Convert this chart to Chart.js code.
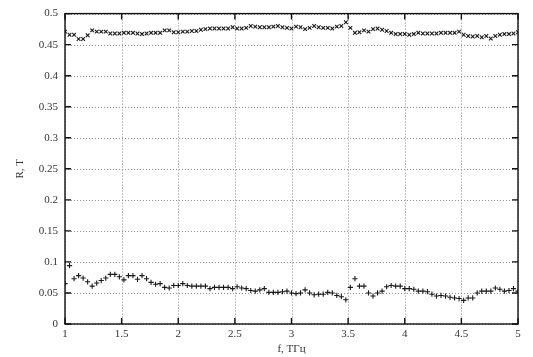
<!DOCTYPE html>
<html>
<head>
<meta charset="utf-8">
<script src="https://cdn.jsdelivr.net/npm/chart.js@4"></script>
<style>
  body { margin: 0; background: #fff; }
  canvas { display: block; }
</style>
</head>
<body>
<canvas id="rtChart" width="533" height="357"></canvas>
<script>
// frequency points, THz
const freq = [
    1.00, 1.04, 1.08, 1.12, 1.16, 1.20, 1.24, 1.28, 1.32, 1.36,
    1.40, 1.44, 1.48, 1.52, 1.56, 1.60, 1.64, 1.68, 1.72, 1.76,
    1.80, 1.84, 1.88, 1.92, 1.96, 2.00, 2.04, 2.08, 2.12, 2.16,
    2.20, 2.24, 2.28, 2.32, 2.36, 2.40, 2.44, 2.48, 2.52, 2.56,
    2.60, 2.64, 2.68, 2.72, 2.76, 2.80, 2.84, 2.88, 2.92, 2.96,
    3.00, 3.04, 3.08, 3.12, 3.16, 3.20, 3.24, 3.28, 3.32, 3.36,
    3.40, 3.44, 3.48, 3.52, 3.56, 3.60, 3.64, 3.68, 3.72, 3.76,
    3.80, 3.84, 3.88, 3.92, 3.96, 4.00, 4.04, 4.08, 4.12, 4.16,
    4.20, 4.24, 4.28, 4.32, 4.36, 4.40, 4.44, 4.48, 4.52, 4.56,
    4.60, 4.64, 4.68, 4.72, 4.76, 4.80, 4.84, 4.88, 4.92, 4.96,
    5.00
];

// reflection (upper row, x markers)
const reflR = [
    0.471, 0.466, 0.466, 0.459, 0.459, 0.465, 0.473, 0.471, 0.471, 0.471,
    0.468, 0.468, 0.468, 0.469, 0.469, 0.469, 0.468, 0.467, 0.468, 0.469,
    0.469, 0.469, 0.473, 0.473, 0.470, 0.470, 0.471, 0.471, 0.472, 0.472,
    0.474, 0.475, 0.476, 0.476, 0.476, 0.476, 0.476, 0.478, 0.476, 0.476,
    0.477, 0.480, 0.479, 0.478, 0.478, 0.478, 0.479, 0.480, 0.478, 0.477,
    0.476, 0.479, 0.478, 0.475, 0.477, 0.480, 0.478, 0.477, 0.477, 0.476,
    0.479, 0.480, 0.486, 0.477, 0.469, 0.470, 0.473, 0.471, 0.475, 0.476,
    0.474, 0.472, 0.469, 0.467, 0.467, 0.467, 0.466, 0.467, 0.469, 0.468,
    0.468, 0.468, 0.468, 0.469, 0.469, 0.469, 0.469, 0.471, 0.466, 0.464,
    0.463, 0.464, 0.462, 0.464, 0.460, 0.464, 0.466, 0.467, 0.467, 0.468,
    0.470
];

// transmission (lower row, + markers)
const transT = [
    0.065, 0.094, 0.073, 0.078, 0.074, 0.068, 0.061, 0.066, 0.070, 0.074,
    0.080, 0.080, 0.076, 0.071, 0.078, 0.078, 0.072, 0.078, 0.073, 0.067,
    0.064, 0.065, 0.059, 0.058, 0.062, 0.062, 0.065, 0.062, 0.061, 0.061,
    0.061, 0.061, 0.057, 0.059, 0.059, 0.059, 0.059, 0.057, 0.060, 0.058,
    0.057, 0.054, 0.053, 0.055, 0.057, 0.051, 0.051, 0.051, 0.052, 0.053,
    0.050, 0.049, 0.050, 0.055, 0.050, 0.047, 0.048, 0.048, 0.051, 0.050,
    0.046, 0.044, 0.039, 0.059, 0.073, 0.061, 0.061, 0.050, 0.045, 0.050,
    0.053, 0.060, 0.062, 0.061, 0.061, 0.057, 0.057, 0.056, 0.053, 0.053,
    0.052, 0.048, 0.045, 0.046, 0.045, 0.043, 0.042, 0.041, 0.038, 0.042,
    0.042, 0.050, 0.053, 0.053, 0.053, 0.058, 0.056, 0.053, 0.054, 0.057,
    0.053
];

const xTitle = 'f, ТГц';
const yTitle = 'R, T';

const toPoints = (ys) => freq.map((f, i) => ({ x: f, y: ys[i] }));

const fontFamily = "'Liberation Serif', 'DejaVu Serif', serif";

// "0.50" -> "0.5", "1.0" -> "1"
const plainTick = (value) => String(Number(value.toFixed(2)));

// dotted grid under the points
const dottedGrid = {
    id: 'dottedGrid',
    beforeDatasetsDraw(chart) {
        const { ctx, chartArea: { left, right, top, bottom } } = chart;
        const xs = chart.scales.x, ys = chart.scales.y;
        ctx.save();
        ctx.strokeStyle = '#8c8c8c';
        ctx.lineWidth = 1;
        ctx.setLineDash([1, 2]);
        ctx.beginPath();
        xs.ticks.forEach((t, i) => {
            const px = Math.round(xs.getPixelForTick(i)) + 0.5;
            ctx.moveTo(px, top); ctx.lineTo(px, bottom);
        });
        ys.ticks.forEach((t, i) => {
            const py = Math.round(ys.getPixelForTick(i)) + 0.5;
            ctx.moveTo(left, py); ctx.lineTo(right, py);
        });
        ctx.stroke();
        ctx.restore();
    }
};

// gnuplot-like frame with inward tick marks
const frameTicks = {
    id: 'frameTicks',
    afterDraw(chart) {
        const { ctx, chartArea: { left, right, top, bottom } } = chart;
        const xs = chart.scales.x, ys = chart.scales.y;
        const len = 6;
        ctx.save();
        ctx.strokeStyle = '#111';
        ctx.lineWidth = 1.4;
        ctx.strokeRect(left, top, right - left, bottom - top);
        ctx.beginPath();
        xs.ticks.forEach((t, i) => {
            const px = xs.getPixelForTick(i);
            ctx.moveTo(px, bottom); ctx.lineTo(px, bottom - len);
            ctx.moveTo(px, top); ctx.lineTo(px, top + len);
        });
        ys.ticks.forEach((t, i) => {
            const py = ys.getPixelForTick(i);
            ctx.moveTo(left, py); ctx.lineTo(left + len, py);
            ctx.moveTo(right, py); ctx.lineTo(right - len, py);
        });
        ctx.stroke();
        ctx.restore();
    }
};

new Chart(document.getElementById('rtChart'), {
    type: 'scatter',
    data: {
        datasets: [
            {
                label: 'R',
                data: toPoints(reflR),
                pointStyle: 'crossRot',
                pointRadius: 2.6,
                borderColor: '#1a1a1a',
                backgroundColor: '#1a1a1a',
                borderWidth: 1.1
            },
            {
                label: 'T',
                data: toPoints(transT),
                pointStyle: 'cross',
                pointRadius: 2.6,
                borderColor: '#1a1a1a',
                backgroundColor: '#1a1a1a',
                borderWidth: 1.1
            }
        ]
    },
    options: {
        responsive: false,
        animation: false,
        layout: { padding: { top: 13, right: 15, left: 0, bottom: 0 } },
        plugins: {
            legend: { display: false },
            tooltip: { enabled: false }
        },
        scales: {
            x: {
                type: 'linear',
                min: 1,
                max: 5,
                ticks: {
                    stepSize: 0.5,
                    color: '#333',
                    padding: 4,
                    font: { family: fontFamily, size: 11 },
                    callback: plainTick
                },
                grid: { display: false, drawTicks: false },
                border: { display: false },
                title: {
                    display: true,
                    text: xTitle,
                    color: '#333',
                    padding: { top: 0, bottom: 1 },
                    font: { family: fontFamily, size: 11 }
                },
                afterFit(scale) { scale.height = 33; }
            },
            y: {
                min: 0,
                max: 0.5,
                ticks: {
                    stepSize: 0.05,
                    color: '#333',
                    padding: 7,
                    font: { family: fontFamily, size: 11 },
                    callback: plainTick
                },
                grid: { display: false, drawTicks: false },
                border: { display: false },
                title: {
                    display: true,
                    text: yTitle,
                    color: '#333',
                    padding: { top: 14, bottom: 4 },
                    font: { family: fontFamily, size: 11 }
                },
                afterFit(scale) { scale.width = 65; }
            }
        }
    },
    plugins: [dottedGrid, frameTicks]
});
</script>
</body>
</html>
